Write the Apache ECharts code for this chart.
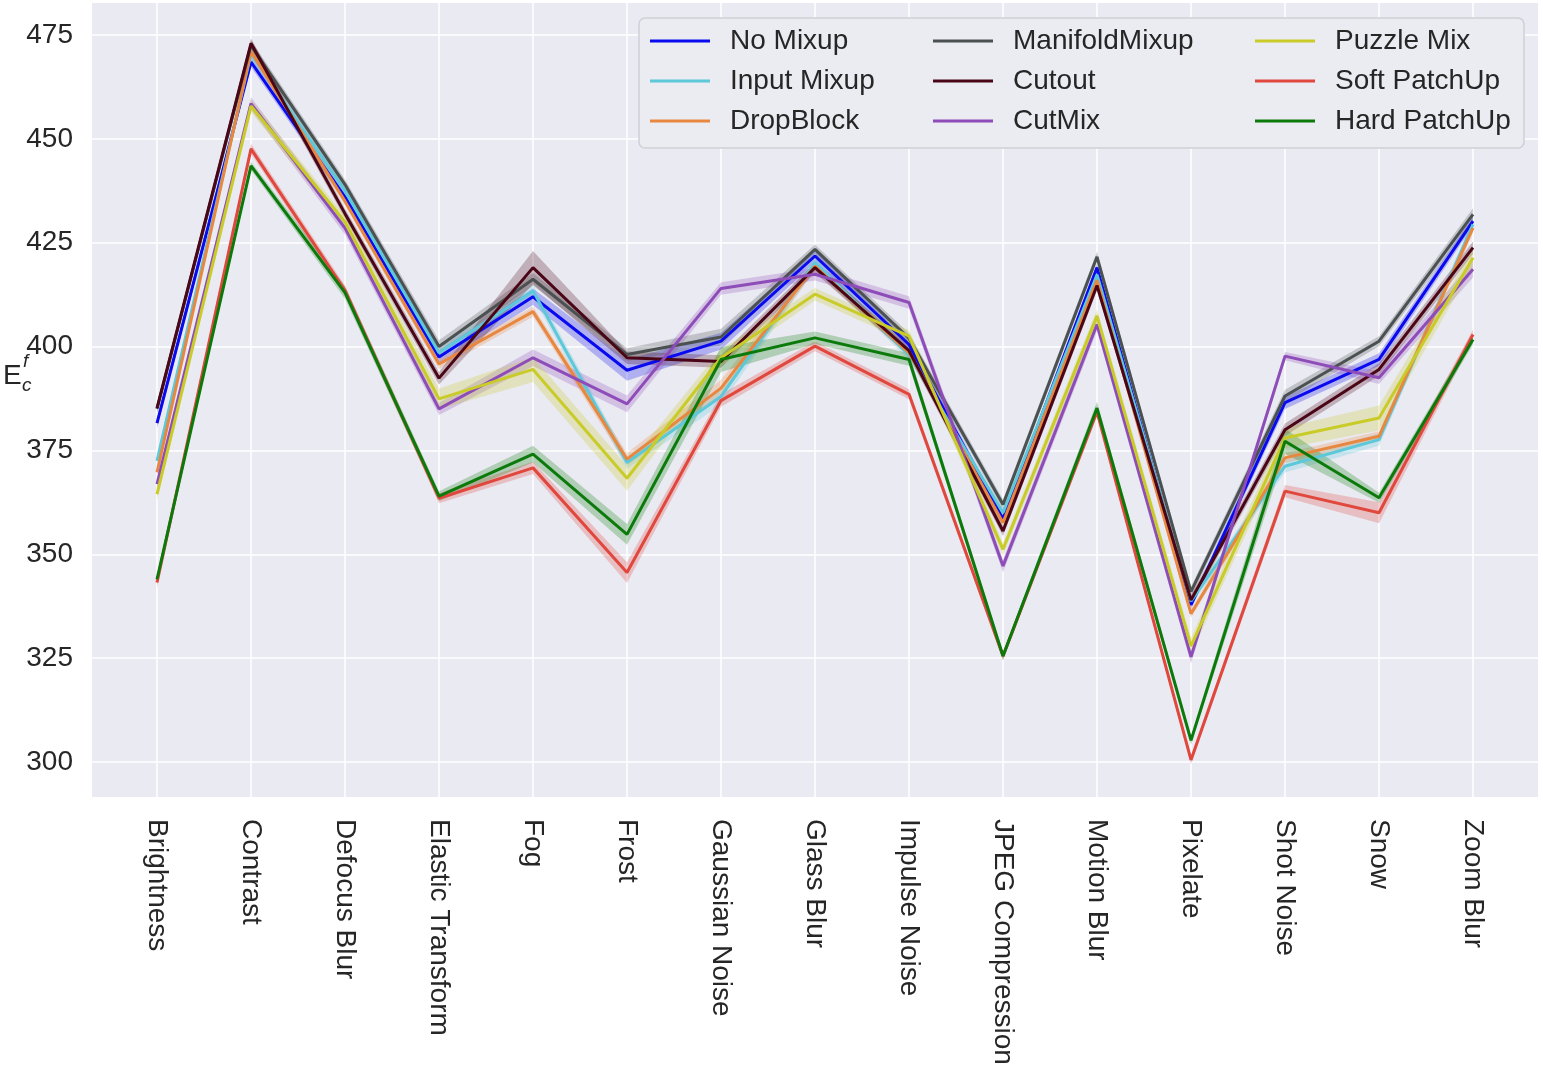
<!DOCTYPE html>
<html>
<head>
<meta charset="utf-8">
<script src="https://cdn.jsdelivr.net/npm/echarts@6/dist/echarts.min.js"></script>
<style>
html,body{margin:0;padding:0;background:#fff;}
#chart{width:1543px;height:1073px;}
</style>
</head>
<body>
<div id="chart"></div>
<script>
const categories = ['Brightness','Contrast','Defocus Blur','Elastic Transform','Fog','Frost','Gaussian Noise','Glass Blur','Impulse Noise','JPEG Compression','Motion Blur','Pixelate','Shot Noise','Snow','Zoom Blur'];
const yTicks = [300,325,350,375,400,425,450,475];

const noMixup       = [381.6,468.5,436.0,397.5,412.0,394.3,401.3,421.8,400.5,358.5,419.0,337.8,386.5,396.9,430.2];
const inputMixup    = [372.5,470.5,437.5,398.5,413.4,372.1,388.0,420.2,398.0,360.0,417.3,338.7,371.2,377.6,429.4];
const dropBlock     = [369.7,471.0,435.0,395.8,408.4,372.9,390.0,419.4,398.5,357.6,416.0,335.7,373.2,378.4,428.6];
const manifoldMixup = [385.0,472.5,439.0,400.0,416.2,398.1,402.3,423.4,402.0,362.0,421.6,341.0,388.1,401.3,431.8];
const cutout        = [385.2,473.0,432.0,392.4,419.0,397.3,396.4,419.0,399.0,355.6,414.7,339.0,380.0,394.5,423.8];
const cutMix        = [366.9,458.5,428.5,385.0,397.3,386.2,414.0,417.4,410.6,347.2,405.3,325.3,397.7,392.5,418.6];
const puzzleMix     = [364.5,457.9,430.0,387.4,394.5,368.3,397.3,412.6,402.5,351.2,407.4,327.9,378.0,382.8,421.4];
const softPatchUp   = [343.2,447.6,413.5,363.5,370.8,345.6,387.0,400.1,388.5,325.5,384.3,300.5,365.2,360.0,402.9];
const hardPatchUp   = [344.0,443.5,413.0,364.0,374.1,354.8,396.9,402.1,396.9,325.5,385.2,305.2,377.2,363.6,401.7];

// half-widths of the shaded confidence bands
const noMixupSpread       = [1.2,1.2,1.2,1.5,2.0,2.5,2.0,1.5,1.5,1.0,1.0,1.0,1.5,1.5,1.2];
const inputMixupSpread    = [1.2,1.5,1.2,1.2,1.5,1.5,2.0,1.5,1.2,1.0,1.0,1.0,1.5,1.5,1.2];
const dropBlockSpread     = [1.0,1.2,1.0,1.2,1.2,1.5,2.0,1.2,1.0,1.0,1.0,1.0,1.2,1.2,1.2];
const manifoldMixupSpread = [1.0,1.2,1.2,1.5,1.5,1.5,2.0,1.2,1.2,1.2,1.2,1.2,1.5,1.2,1.5];
const cutoutSpread        = [1.0,1.2,1.2,1.5,4.0,1.5,1.5,1.2,1.2,1.2,1.2,1.2,1.5,1.5,1.5];
const cutMixSpread        = [1.0,1.5,1.5,1.5,2.0,2.0,1.5,1.5,1.5,1.5,1.5,1.5,1.0,1.5,2.0];
const puzzleMixSpread     = [1.5,1.5,1.5,2.5,3.0,3.0,2.0,1.5,1.5,1.5,1.5,2.0,2.5,3.0,2.0];
const softPatchUpSpread   = [1.2,1.2,1.2,1.2,1.5,2.5,1.5,1.2,1.2,1.0,1.0,1.0,1.5,2.5,1.2];
const hardPatchUpSpread   = [1.0,1.0,1.5,1.2,2.0,2.5,3.0,1.5,1.5,1.0,1.5,1.0,3.0,1.2,1.2];

const methods = [
  {name:'No Mixup',      values:noMixup,       spread:noMixupSpread,       color:'#0a0aef'},
  {name:'Input Mixup',   values:inputMixup,    spread:inputMixupSpread,    color:'#5cc8d9'},
  {name:'DropBlock',     values:dropBlock,     spread:dropBlockSpread,     color:'#e8873f'},
  {name:'ManifoldMixup', values:manifoldMixup, spread:manifoldMixupSpread, color:'#4b5151'},
  {name:'Cutout',        values:cutout,        spread:cutoutSpread,        color:'#4a0616'},
  {name:'CutMix',        values:cutMix,        spread:cutMixSpread,        color:'#8e4cb8'},
  {name:'Puzzle Mix',    values:puzzleMix,     spread:puzzleMixSpread,     color:'#c9cb28'},
  {name:'Soft PatchUp',  values:softPatchUp,   spread:softPatchUpSpread,   color:'#e0473d'},
  {name:'Hard PatchUp',  values:hardPatchUp,   spread:hardPatchUpSpread,   color:'#0b7a0b'}
];

const FONT = '"Liberation Sans", Arial, sans-serif';
const TXT = '#262626';
const chart = echarts.init(document.getElementById('chart'));

const series = [];
methods.forEach((m, i) => {
  series.push({
    type:'line', name:'__lo'+i, xAxisIndex:3, yAxisIndex:3,
    data:m.values.map((v,k)=>v-m.spread[k]), stack:'band'+i,
    symbol:'none', lineStyle:{opacity:0}, silent:true, clip:false, z:1
  });
  series.push({
    type:'line', name:'__band'+i, xAxisIndex:3, yAxisIndex:3,
    data:m.spread.map(s=>2*s), stack:'band'+i,
    symbol:'none', lineStyle:{opacity:0}, areaStyle:{color:m.color, opacity:0.26},
    silent:true, clip:false, z:1
  });
});
methods.forEach((m) => {
  series.push({
    type:'line', name:m.name, xAxisIndex:3, yAxisIndex:3,
    data:m.values, symbol:'none', clip:false, z:3,
    lineStyle:{color:m.color, width:3}, itemStyle:{color:m.color}
  });
});

function legendCfg(left, names){
  return {
    data:names, left:left, top:21, orient:'vertical', padding:0, itemGap:0,
    icon:'rect', itemWidth:60, itemHeight:3, z:10,
    textStyle:{fontFamily:FONT, fontSize:28, color:TXT, lineHeight:40, padding:[0,0,0,15]},
    selectedMode:false
  };
}

const option = {
  animation:false,
  backgroundColor:'#ffffff',
  grid:[
    {left:92, right:5, top:3, bottom:276, show:true, backgroundColor:'#EAEAF2', borderWidth:0},
    {left:92, right:5, top:35, bottom:311},
    {left:157, right:70, top:3, bottom:276},
    {left:157, right:70, top:35, bottom:311}
  ],
  xAxis:[
    {gridIndex:0, type:'category', data:categories, show:false},
    {gridIndex:1, type:'category', data:categories, show:false},
    {gridIndex:2, type:'category', data:categories, boundaryGap:false,
     axisLine:{show:false}, axisTick:{show:false},
     splitLine:{show:true, lineStyle:{color:'#ffffff', width:1.5}},
     axisLabel:{rotate:-90, margin:22, fontFamily:FONT, fontSize:28, color:TXT, interval:0}},
    {gridIndex:3, type:'category', data:categories, boundaryGap:false, show:false}
  ],
  yAxis:[
    {gridIndex:0, type:'value', min:0, max:1, show:false, splitLine:{show:false}},
    {gridIndex:1, type:'value', min:yTicks[0], max:yTicks[yTicks.length-1], interval:25,
     axisLine:{show:false}, axisTick:{show:false},
     splitLine:{show:true, lineStyle:{color:'#ffffff', width:1.5}},
     axisLabel:{margin:19, fontFamily:FONT, fontSize:28, color:TXT}},
    {gridIndex:2, type:'value', min:0, max:1, show:false, splitLine:{show:false}},
    {gridIndex:3, type:'value', min:yTicks[0], max:yTicks[yTicks.length-1], show:false, splitLine:{show:false}}
  ],
  legend:[
    legendCfg(650, methods.slice(0,3).map(m=>m.name)),
    legendCfg(933, methods.slice(3,6).map(m=>m.name)),
    legendCfg(1255, methods.slice(6,9).map(m=>m.name))
  ],
  graphic:[
    {type:'rect', z:5, shape:{x:639, y:18, width:885, height:130, r:6},
     style:{fill:'#EBEBF2', stroke:'#cfcfd6', lineWidth:1.5}},
    {type:'text', z:5, left:3, top:362, style:{text:'E', font:'28px ' + FONT, fill:TXT}},
    {type:'text', z:5, left:23, top:352, style:{text:'f', font:'italic 19px ' + FONT, fill:TXT}},
    {type:'text', z:5, left:22, top:376, style:{text:'c', font:'italic 19px ' + FONT, fill:TXT}}
  ],
  series:series
};
chart.setOption(option);
</script>
</body>
</html>
